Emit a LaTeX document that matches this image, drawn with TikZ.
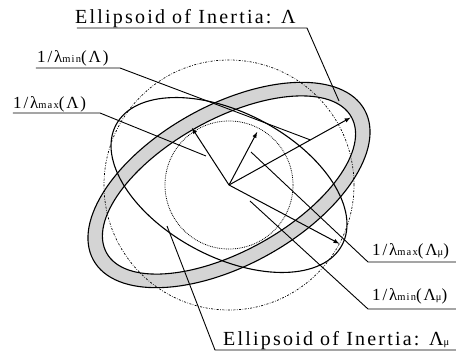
\documentclass[tikz,border=0pt]{standalone}
\usepackage{fontspec}
\setmainfont{Liberation Serif}
\newfontfamily\spacedfont[LetterSpace=11]{Liberation Serif}
\usepackage{tikz}

\newcommand{\smallsub}[1]{{\fontsize{10.5}{10.5}\selectfont #1}}

\begin{document}
\begin{tikzpicture}[x=1pt,y=1pt,>=latex,
    lbl/.style={anchor=base west,inner sep=0pt,font=\fontsize{17}{18}\spacedfont},
    biglbl/.style={anchor=base west,inner sep=0pt,font=\fontsize{20}{22}\spacedfont},
    lead/.style={line width=0.9pt},
    axis/.style={->,line width=1pt}]
      \useasboundingbox (-229,-169) rectangle (227,185);
      \coordinate (O) at (0,0);
      % shaded band: Lambda
      \fill [black!17,even odd rule,rotate=29] (O) ellipse (155 and 80) (O) ellipse (140 and 66);
      \draw [line width=1.1pt,rotate=29] (O) ellipse (155 and 80) (O) ellipse (140 and 66);
      % circles
      \draw [dash pattern=on 2pt off 1.5pt on 0.6pt off 1.5pt,line width=0.7pt] (O) circle (125);
      \draw [densely dotted,line width=0.8pt] (O) circle (64);
      % thin ellipse: Lambda_mu
      \draw [line width=1.1pt,rotate=-28] (O) ellipse (128 and 72);
      % axes
      \coordinate (A) at (29:139);
      \coordinate (B) at (123:68);
      \coordinate (C) at (-28:125);
      \coordinate (D) at (62:60);
      \draw [axis] (O) to (A);
      \draw [axis] (O) to (B);
      \draw [axis] (O) to (C);
      \draw [axis] (O) to (D);
      % labels
      \node [biglbl] (T1) at (-154,162) {Ellipsoid of Inertia: Λ};
      \node [lbl] (T2) at (-192,123) {1/λ\smallsub{min}(Λ)};
      \node [lbl] (T3) at (-216,77) {1/λ\smallsub{max}(Λ)};
      \node [lbl] (T4) at (143,-70) {1/λ\smallsub{max}(Λ\smallsub{μ})};
      \node [lbl] (T5) at (143,-115) {1/λ\smallsub{min}(Λ\smallsub{μ})};
      \node [biglbl] (T6) at (-6,-160) {Ellipsoid of Inertia: Λ\smallsub{μ}};
      % leaders
      \coordinate (a) at (110,84);
      \coordinate (b) at (29:93);
      \coordinate (c) at (-23,29);
      \coordinate (d) at (22,33);
      \coordinate (e) at (21,-16);
      \coordinate (f) at (-62,-41);
      \coordinate (T1l) at (-152,157);
      \coordinate (T1r) at (78,157);
      \coordinate (T2l) at (-193,117);
      \coordinate (T2r) at (-109,117);
      \coordinate (T3l) at (-216,72);
      \coordinate (T3r) at (-129,72);
      \coordinate (T4l) at (139,-77);
      \coordinate (T4r) at (227,-77);
      \coordinate (T5l) at (139,-124);
      \coordinate (T5r) at (227,-124);
      \coordinate (T6l) at (-14,-165);
      \coordinate (T6r) at (227,-165);
      \draw [lead] (T1l) to (T1r) to (a);
      \draw [lead] (T2l) to (T2r) to (b);
      \draw [lead] (T3l) to (T3r) to (c);
      \draw [lead] (T4r) to (T4l) to (d);
      \draw [lead] (T5r) to (T5l) to (e);
      \draw [lead] (T6r) to (T6l) to (f);
\end{tikzpicture}
\end{document}
